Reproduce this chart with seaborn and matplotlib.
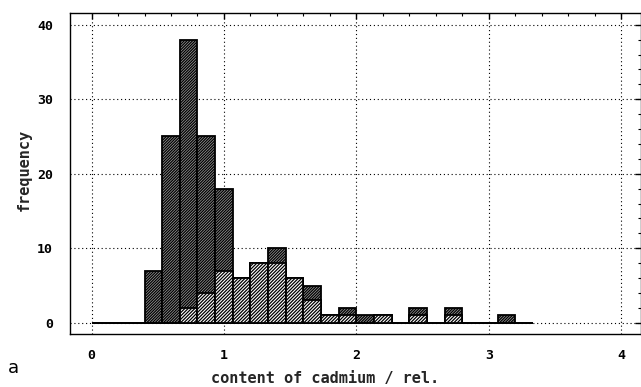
import numpy as np
import pandas as pd
import matplotlib
matplotlib.use("Agg")
import matplotlib.pyplot as plt
import seaborn as sns
from matplotlib.ticker import MultipleLocator

# Histogram of relative cadmium content: all samples and a subset (counts per bin)
bin_width = 2 / 15
n_bins = 25
counts_all = [0, 0, 0, 7, 25, 38, 25, 18, 6, 8, 10, 6, 5, 1, 2, 1, 1, 0, 2, 0, 2, 0, 0, 1, 0]
counts_subset = [0, 0, 0, 0, 0, 2, 4, 7, 6, 8, 8, 6, 3, 1, 1, 0, 1, 0, 1, 0, 1, 0, 0, 0, 0]
x_ticks = [0, 1, 2, 3, 4]
y_ticks = [0, 10, 20, 30, 40]

edges = [i * bin_width for i in range(n_bins + 1)]
centers = [(a + b) / 2 for a, b in zip(edges[:-1], edges[1:])]
df = pd.DataFrame({"cd": centers, "all": counts_all, "subset": counts_subset})

sns.set_theme(style="white")
plt.rcParams["hatch.linewidth"] = 0.9
plt.rcParams["hatch.color"] = "black"
mono = "DejaVu Sans Mono"

fig = plt.figure(figsize=(6.41, 3.87), dpi=100)
ax = fig.add_axes([0.109, 0.137, 0.891, 0.83])

bar_style = dict(bins=edges, stat="count", element="bars", fill=True,
                 edgecolor="black", linewidth=1.3, alpha=1)
sns.histplot(data=df, x="cd", weights="all", hatch="/" * 12, color="#a0a0a0",
             ax=ax, **bar_style)
sns.histplot(data=df, x="cd", weights="subset", hatch="/" * 10, color="white",
             ax=ax, **bar_style)

ax.set_xlim(-0.164, 4.15)
ax.set_ylim(-1.5, 41.6)
ax.set_xticks(x_ticks)
ax.set_yticks(y_ticks)
ax.xaxis.set_minor_locator(MultipleLocator(0.2))
ax.yaxis.set_minor_locator(MultipleLocator(2))
ax.grid(True, which="major", color="black", linestyle=(0, (1, 2.5)), linewidth=0.8)
ax.set_axisbelow(True)

ax.tick_params(which="both", direction="in", top=True, right=True, colors="black")
ax.tick_params(which="major", length=4, width=1)
ax.tick_params(which="minor", length=2.5, width=0.8)
ax.tick_params(axis="x", which="major", pad=11)
ax.tick_params(axis="y", which="major", pad=12)
for lab in ax.get_xticklabels() + ax.get_yticklabels():
    lab.set_fontfamily(mono)
    lab.set_fontweight("bold")
    lab.set_fontsize(9.5)

for s in ax.spines.values():
    s.set_color("black")
    s.set_linewidth(1.0)

ax.set_xlabel("content of cadmium / rel.", fontfamily=mono, fontweight="bold", fontsize=11)
ax.set_ylabel("frequency", fontfamily=mono, fontweight="bold", fontsize=11)
ax.xaxis.set_label_coords(0.446, -0.115)
ax.yaxis.set_label_coords(-0.067, 0.51)

fig.text(0.012, 0.035, "a", fontsize=13, color="black")

fig.savefig("out.png", dpi=100)
